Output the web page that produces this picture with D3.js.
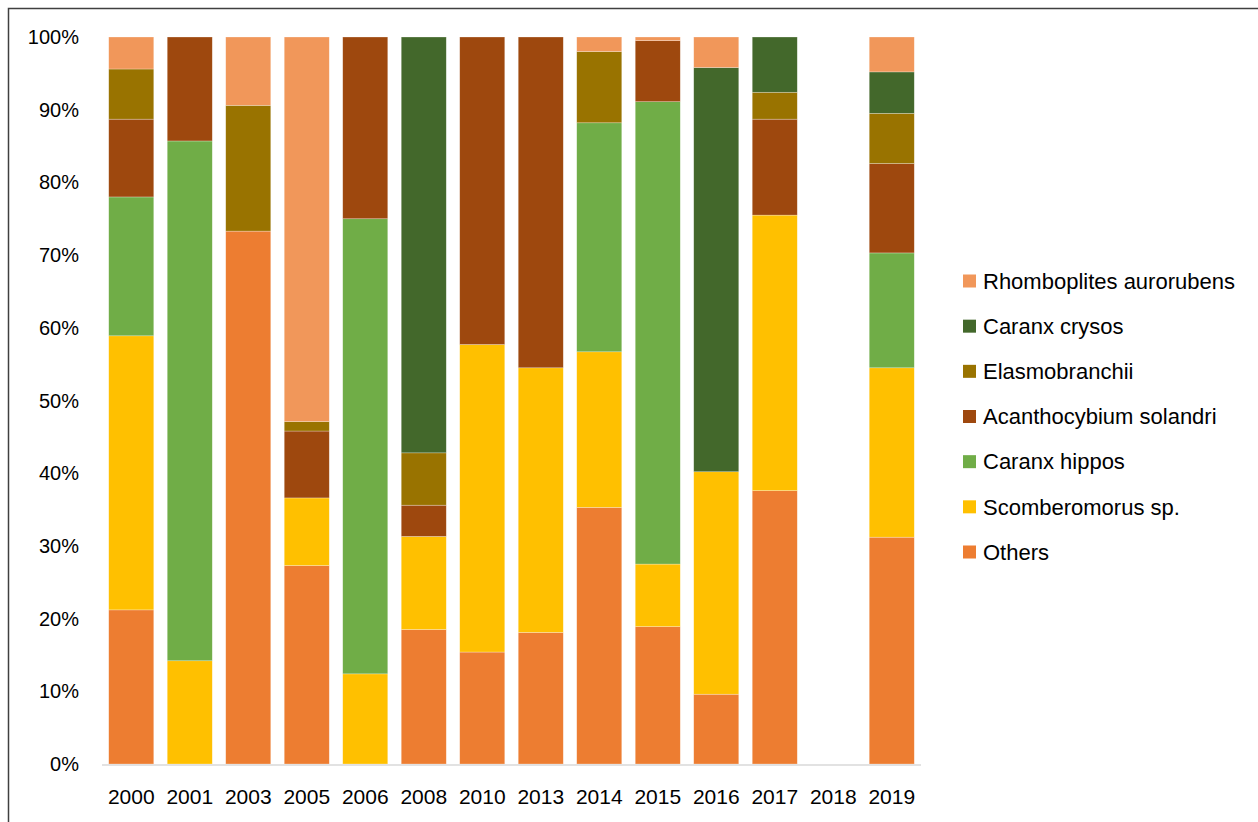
<!DOCTYPE html>
<html>
<head>
<meta charset="utf-8">
<script src="https://cdn.jsdelivr.net/npm/d3@7"></script>
<style>
  body { margin: 0; background: #fff; }
  #data-viz { width: 1258px; height: 822px; }
  text { font-family: "Liberation Sans", Arial, sans-serif; fill: #000; }
</style>
</head>
<body>
<div id="data-viz"></div>
<script>
const years = ["2000", "2001", "2003", "2005", "2006", "2008", "2010", "2013", "2014", "2015", "2016", "2017", "2018", "2019"]

// shares in percent, one value per year
const others       = [21.2,  0.0, 73.3, 27.3,  0.0, 18.5, 15.4, 18.1, 35.3, 18.9,  9.6, 37.6, 0, 31.2]
const scomberomorus = [37.7, 14.2,  0.0,  9.3, 12.4, 12.8, 42.3, 36.4, 21.4,  8.6, 30.6, 37.9, 0, 23.3]
const caranxHippos = [19.1, 71.5,  0.0,  0.0, 62.6,  0.0,  0.0,  0.0, 31.5, 63.6,  0.0,  0.0, 0, 15.8]
const acanthocybium = [10.7, 14.3,  0.0,  9.2, 25.0,  4.3, 42.3, 45.5,  0.0,  8.4,  0.0, 13.2, 0, 12.3]
const elasmobranchii = [6.9,  0.0, 17.3,  1.3,  0.0,  7.2,  0.0,  0.0,  9.8,  0.0,  0.0,  3.7, 0,  6.9]
const caranxCrysos = [ 0.0,  0.0,  0.0,  0.0,  0.0, 57.2,  0.0,  0.0,  0.0,  0.0, 55.6,  7.6, 0,  5.7]
const rhomboplites = [ 4.4,  0.0,  9.4, 52.9,  0.0,  0.0,  0.0,  0.0,  2.0,  0.5,  4.2,  0.0, 0,  4.8]

const seriesNames = ["Others", "Scomberomorus sp.", "Caranx hippos", "Acanthocybium solandri",
    "Elasmobranchii", "Caranx crysos", "Rhomboplites aurorubens"]
const seriesColors = ["#ED7D31", "#FFC000", "#70AD47", "#9E480E", "#997300", "#43682B", "#F1975A"]
const seriesValues = [others, scomberomorus, caranxHippos, acanthocybium, elasmobranchii, caranxCrysos, rhomboplites]

const yTicks = [0, 10, 20, 30, 40, 50, 60, 70, 80, 90, 100]

function drawChart() {
    const width = 1258
    const height = 822

    const svg = d3.select("#data-viz").append("svg")
        .attr("width", width)
        .attr("height", height)

    // outer frame (only top and left edges show in the picture)
    svg.append("path")
        .attr("d", `M8.5,${height} L8.5,8.5 L${width},8.5`)
        .attr("fill", "none")
        .attr("stroke", "#404040")
        .attr("stroke-width", 1.5)

    const rows = years.map((y, i) => {
        const row = {year: y}
        seriesNames.forEach((s, j) => row[s] = seriesValues[j][i])
        return row
    })
    const stacked = d3.stack().keys(seriesNames)(rows)

    const x = d3.scaleBand()
        .domain(years)
        .range([102, 921])
        .paddingInner(0.23)
        .paddingOuter(0.115)

    const y = d3.scaleLinear()
        .domain([0, 100])
        .range([764, 37])

    const color = d3.scaleOrdinal().domain(seriesNames).range(seriesColors)

    // y labels
    svg.append("g")
        .selectAll("text")
        .data(yTicks)
        .join("text")
            .attr("x", 79)
            .attr("y", d => y(d))
            .attr("dy", "0.35em")
            .attr("text-anchor", "end")
            .style("font-size", "20px")
            .text(d => d + "%")

    // bars
    svg.append("g")
        .selectAll("g")
        .data(stacked)
        .join("g")
            .attr("fill", d => color(d.key))
        .selectAll("rect")
        .data(d => d)
        .join("rect")
            .attr("x", d => x(d.data.year))
            .attr("width", x.bandwidth())
            .attr("y", d => y(d[1]))
            .attr("height", d => Math.max(0, y(d[0]) - y(d[1])))
            .attr("stroke", "#fff")
            .attr("stroke-opacity", 0.45)
            .attr("stroke-width", 0.6)

    // x axis line
    svg.append("line")
        .attr("x1", 102)
        .attr("x2", 921)
        .attr("y1", y(0) + 1)
        .attr("y2", y(0) + 1)
        .attr("stroke", "#D9D9D9")
        .attr("stroke-width", 1.5)

    svg.append("g")
        .selectAll("text")
        .data(years)
        .join("text")
            .attr("x", d => x(d) + x.bandwidth() / 2)
            .attr("y", 797)
            .attr("dy", "0.35em")
            .attr("text-anchor", "middle")
            .style("font-size", "21px")
            .text(d => d)

    // legend, top entry is the last series
    const legendNames = seriesNames.slice().reverse()
    const legendY = d3.scalePoint()
        .domain(legendNames)
        .range([281, 552])

    const legend = svg.append("g")
        .selectAll("g")
        .data(legendNames)
        .join("g")
            .attr("transform", d => `translate(963, ${legendY(d)})`)

    legend.append("rect")
        .attr("x", 0)
        .attr("y", -6.5)
        .attr("width", 13)
        .attr("height", 13)
        .attr("fill", d => color(d))

    legend.append("text")
        .attr("x", 20)
        .attr("y", 0)
        .attr("dy", "0.35em")
        .style("font-size", "22px")
        .text(d => d)
}

drawChart()
</script>
</body>
</html>
